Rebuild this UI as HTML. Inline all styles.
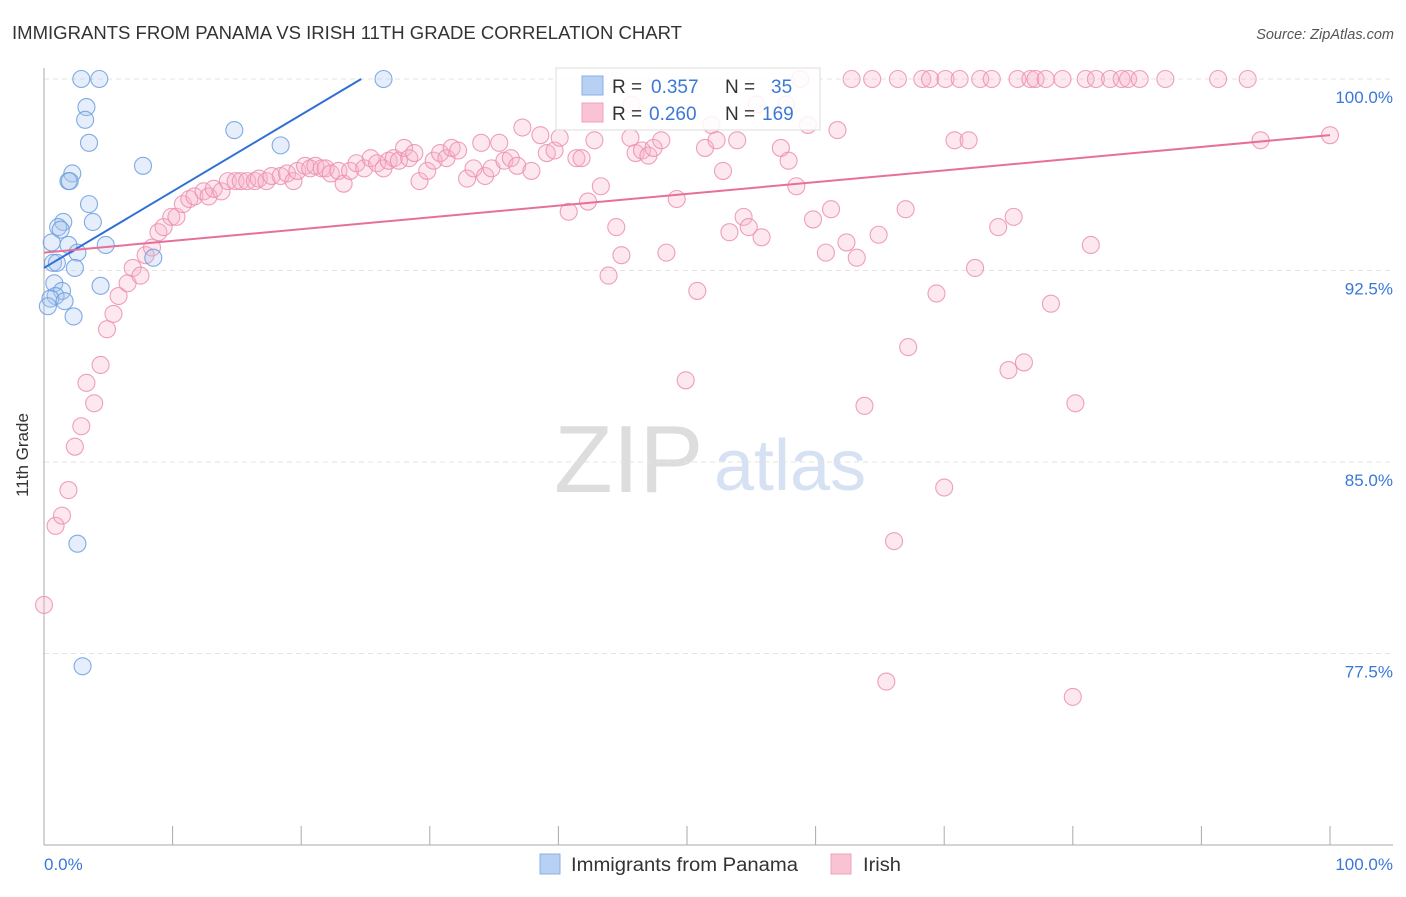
<!DOCTYPE html>
<html><head><meta charset="utf-8"><style>
body{margin:0;background:#fff;font-family:"Liberation Sans",sans-serif;}
svg text{font-family:"Liberation Sans",sans-serif;}
</style></head><body>
<svg id="chart" width="1406" height="892">
<text x="12" y="39" font-size="18" fill="#333" textLength="670" lengthAdjust="spacingAndGlyphs">IMMIGRANTS FROM PANAMA VS IRISH 11TH GRADE CORRELATION CHART</text>
<text x="1394" y="39" font-size="14.5" fill="#555" font-style="italic" text-anchor="end">Source: ZipAtlas.com</text>
<text x="554" y="492" font-size="96" fill="#ddd" font-family="Liberation Serif">ZIP</text>
<text x="714" y="490" font-size="72" fill="#d6e2f3">atlas</text>
<g id="grid"></g><g id="axes"></g><g id="pts"></g><g id="lines"></g>
<text x="28" y="455" font-size="17" fill="#333" text-anchor="middle" transform="rotate(-90 28 455)">11th Grade</text>
<g>
<rect x="556" y="68" width="264" height="62" fill="#fff" fill-opacity="0.85" stroke="#ddd"/>
<rect x="582" y="76" width="21" height="19" fill="#b7d0f3" stroke="#8ab0e6"/>
<text x="612" y="93" font-size="19" fill="#333">R = </text><text x="651" y="93" font-size="19" fill="#3a78d8">0.357</text>
<text x="725" y="93" font-size="19" fill="#333">N = </text><text x="771" y="93" font-size="19" fill="#3a78d8">35</text>
<rect x="582" y="103" width="21" height="19" fill="#f9c3d4" stroke="#eda3bb"/>
<text x="612" y="120" font-size="19" fill="#333">R = </text><text x="649" y="120" font-size="19" fill="#3a78d8">0.260</text>
<text x="725" y="120" font-size="19" fill="#333">N = </text><text x="762" y="120" font-size="19" fill="#3a78d8">169</text>
</g>
<g>
<rect x="540" y="854" width="20" height="20" fill="#b7d0f3" stroke="#8ab0e6"/>
<text x="571" y="871" font-size="19" fill="#333" textLength="227" lengthAdjust="spacingAndGlyphs">Immigrants from Panama</text>
<rect x="831" y="854" width="20" height="20" fill="#f9c3d4" stroke="#eda3bb"/>
<text x="863" y="871" font-size="19" fill="#333" textLength="38" lengthAdjust="spacingAndGlyphs">Irish</text>
</g>
</svg>
<script>
const yTicks=[100,92.5,85,77.5];
const yTickLabels=["100.0%","92.5%","85.0%","77.5%"];
const xTickLabels=["0.0%","100.0%"];
const blueX=[2.9,4.3,26.4,3.3,3.2,3.5,14.8,18.4,7.7,2.2,1.9,2.0,3.5,3.8,1.5,1.1,1.3,0.6,1.9,2.6,4.8,8.5,0.7,1.0,2.4,0.8,4.4,1.4,0.9,0.5,1.6,0.3,2.3,2.6,3.0];
const blueY=[100,100,100,98.9,98.4,97.5,98.0,97.4,96.6,96.3,96.0,96.0,95.1,94.4,94.4,94.2,94.1,93.6,93.5,93.2,93.5,93.0,92.8,92.8,92.6,92.0,91.9,91.7,91.5,91.4,91.3,91.1,90.7,81.8,77.0];
const pinkTopX=[58.8,62.8,64.4,66.4,68.3,68.9,70.1,71.2,72.8,73.7,75.7,76.7,77.1,77.9,79.2,81.0,81.8,82.9,83.8,84.3,85.2,87.2,91.3,93.6];
const pinkX=[0,0.9,1.4,1.9,2.4,2.9,3.9,3.3,4.4,4.9,5.4,5.8,6.5,6.9,7.5,7.9,8.4,8.9,9.3,9.9,10.3,10.8,11.3,11.7,12.4,12.8,13.2,13.8,14.3,14.9,15.3,15.8,16.4,16.7,17.3,17.7,18.4,18.9,19.4,19.7,20.3,20.7,21.1,21.6,21.9,22.3,22.9,23.3,23.8,24.3,24.9,25.4,25.9,26.4,26.8,27.2,27.6,28.0,28.4,28.8,29.2,29.8,30.3,30.8,31.3,31.7,32.2,32.9,33.4,34.0,34.3,34.8,35.4,35.8,36.3,36.8,37.2,37.9,38.6,39.1,39.7,40.1,40.8,41.4,41.8,42.3,42.8,43.3,43.9,44.5,44.9,45.6,46.0,46.5,47.0,47.4,48.0,48.4,49.2,49.9,50.8,51.4,51.9,52.3,52.8,53.3,53.9,54.4,54.8,55.4,55.8,57.3,57.9,58.5,59.4,59.8,60.8,61.2,61.7,62.4,63.2,63.8,64.9,65.5,66.1,67.0,67.2,69.4,70.0,70.8,71.9,72.4,74.2,75.0,75.4,76.2,78.3,80.2,80.0,81.4,94.6,100,45.7,57.7];
const pinkY=[79.4,82.5,82.9,83.9,85.6,86.4,87.3,88.1,88.8,90.2,90.8,91.5,92.0,92.6,92.3,93.1,93.4,94.0,94.2,94.6,94.6,95.1,95.3,95.4,95.6,95.4,95.7,95.6,96.0,96.0,96.0,96.0,96.0,96.1,96.0,96.2,96.2,96.3,96.0,96.4,96.6,96.5,96.6,96.5,96.5,96.3,96.4,95.9,96.4,96.7,96.5,96.9,96.7,96.5,96.8,96.9,96.8,97.3,96.9,97.1,96.0,96.4,96.8,97.1,96.9,97.3,97.2,96.1,96.5,97.5,96.2,96.5,97.5,96.8,96.9,96.6,98.1,96.4,97.8,97.1,97.2,97.7,94.8,96.9,96.9,95.2,97.6,95.8,92.3,94.2,93.1,97.7,97.1,97.2,97.0,97.3,97.6,93.2,95.3,88.2,91.7,97.3,98.2,97.6,96.4,94.0,97.6,94.6,94.2,99.0,93.8,97.3,96.8,95.8,98.2,94.5,93.2,94.9,98.0,93.6,93.0,87.2,93.9,76.4,81.9,94.9,89.5,91.6,84.0,97.6,97.6,92.6,94.2,88.6,94.6,88.9,91.2,87.3,75.8,93.5,97.6,97.8,99.0,99.0];
const blueTrend=[92.6,0.30];   // intercept, slope
const pinkTrend=[93.2,0.046];
const NS="http://www.w3.org/2000/svg";
const X0=44,X1=1330,Y0=845,Y1=79,YMIN=70,YMAX=100;
function sx(v){return X0+(v/100)*(X1-X0);}
function sy(v){return Y0-(v-YMIN)/(YMAX-YMIN)*(Y0-Y1);}
function mk(tag,attrs,parent){const e=document.createElementNS(NS,tag);for(const k in attrs)e.setAttribute(k,attrs[k]);document.getElementById(parent).appendChild(e);return e;}
yTicks.forEach((t,i)=>{
  const g=mk('line',{x1:X0,x2:1393,y1:sy(t),y2:sy(t),stroke:'#e3e3e3','stroke-dasharray':'5,4'},'grid');
  
  
  const l=mk('text',{x:1393,y:sy(t)+24,'font-size':17,fill:'#3a78d8','text-anchor':'end'},'grid');
  l.textContent=yTickLabels[i];
  
  
});
const ax=mk('line',{x1:X0,x2:X0,y1:68,y2:Y0,stroke:'#aaa'},'axes');


const bx=mk('line',{x1:X0,x2:1393,y1:Y0,y2:Y0,stroke:'#aaa'},'axes');


for(let i=0;i<=10;i++){
  const t=mk('line',{x1:sx(i*10),x2:sx(i*10),y1:826,y2:Y0,stroke:'#aaa'},'axes');
  
  
}
[[0,'start',44],[100,'end',1393]].forEach((d,i)=>{
  const l=mk('text',{x:d[2],y:870,'font-size':17,fill:'#3a78d8','text-anchor':d[1]},'axes');
  l.textContent=xTickLabels[i];
  
  
});
function dot(x,y,f,s,name){
  const c=mk('circle',{cx:sx(x),cy:sy(y),r:8.5,fill:f,'fill-opacity':0.3,stroke:s,'stroke-width':1.1,'stroke-opacity':0.85},'pts');
  
  
}
pinkTopX.forEach(x=>dot(x,100,'#f7b3c9','#eb8fae','irish-point'));
pinkX.forEach((x,i)=>dot(x,pinkY[i],'#f7b3c9','#eb8fae','irish-point'));
blueX.forEach((x,i)=>dot(x,blueY[i],'#a8c7f0','#6b9de0','panama-point'));
const bEnd=(100-blueTrend[0])/blueTrend[1];
const bl=mk('line',{x1:sx(0),y1:sy(blueTrend[0]),x2:sx(bEnd),y2:sy(100),stroke:'#2f6fd6','stroke-width':2},'lines');


const pl=mk('line',{x1:sx(0),y1:sy(pinkTrend[0]),x2:sx(100),y2:sy(pinkTrend[0]+pinkTrend[1]*100),stroke:'#e76f9b','stroke-width':2},'lines');


</script>
</body></html>
